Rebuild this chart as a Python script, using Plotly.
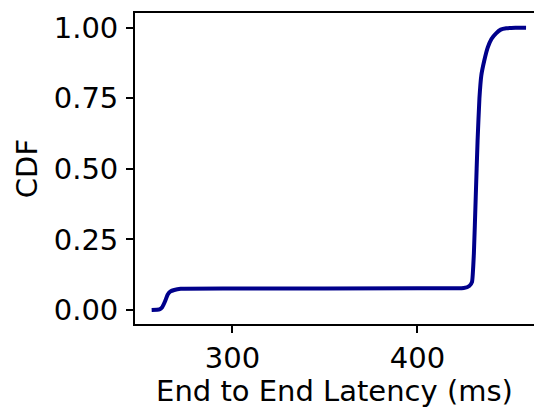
import plotly.graph_objects as go

# Empirical CDF of end-to-end latency (ms)
latency_ms = [256.3, 260.5, 262.0, 263.5, 265.0, 266.5, 268.5, 272.0, 300.0, 400.0,
              425.0, 428.0, 429.5, 430.5, 431.5, 432.5, 433.5, 434.5, 436.0, 438.0,
              440.0, 442.5, 445.0, 448.0, 453.0, 458.7]
cdf = [0.0, 0.002, 0.01, 0.03, 0.055, 0.066, 0.071, 0.075, 0.076, 0.077,
       0.078, 0.085, 0.10, 0.20, 0.40, 0.60, 0.75, 0.83, 0.88, 0.93,
       0.96, 0.98, 0.993, 0.998, 1.0, 1.0]

x_ticks = [300, 400]
y_ticks = [0.0, 0.25, 0.5, 0.75, 1.0]
y_tick_text = ["0.00", "0.25", "0.50", "0.75", "1.00"]

fig = go.Figure()
fig.add_trace(go.Scatter(
    x=latency_ms, y=cdf, mode="lines",
    line=dict(color="#00008b", width=4, shape="spline", smoothing=0.4),
    showlegend=False,
))

font = dict(family="DejaVu Sans", size=29, color="black")

fig.update_layout(
    width=534, height=408,
    margin=dict(l=135, r=0, t=13, b=84),
    paper_bgcolor="white", plot_bgcolor="white",
    font=font,
    xaxis=dict(
        range=[247.3, 463.0], tickvals=x_ticks, ticks="outside", ticklen=7,
        tickwidth=1.5, tickcolor="black", showgrid=False, zeroline=False,
        showline=True, linecolor="black", linewidth=1.8, mirror=True,
        title=dict(text="End to End Latency (ms)", standoff=0, font=font),
        tickfont=font,
    ),
    yaxis=dict(
        range=[-0.0496, 1.052], tickvals=y_ticks, ticktext=y_tick_text,
        ticks="outside", ticklen=7, tickwidth=1.5, tickcolor="black",
        showgrid=False, zeroline=False, ticklabelstandoff=2,
        showline=True, linecolor="black", linewidth=1.8,
        title=dict(text="CDF", standoff=8, font=font),
        tickfont=font,
    ),
)

fig.write_html("out.html")
